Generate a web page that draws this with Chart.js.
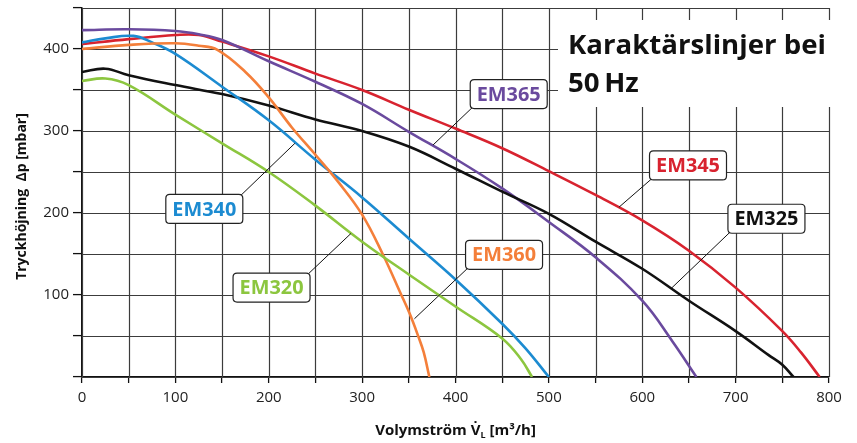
<!DOCTYPE html>
<html>
<head>
<meta charset="utf-8">
<script src="https://cdn.jsdelivr.net/npm/chart.js@4/dist/chart.umd.min.js"></script>
<style>
  html, body { margin: 0; padding: 0; background: #fff; }
  #wrap { width: 857px; height: 443px; }
</style>
</head>
<body>
<div id="wrap"><canvas id="chart"></canvas></div>
<script>
// Volymström [m³/h], Tryckhöjning [mbar]
const em320 = [[0,361],[25,364],[50,356],[100,320],[150,285],[200,250],[250,209],[300,165],[350,125],[400,86],[450,47],[470,22],[482,0]];
const em360 = [[0,400],[50,405],[100,407],[125,404],[145,399],[175,372],[200,341],[225,304],[250,271],[275,237],[300,198],[322,150],[342,100],[351,77],[360,50],[366,30],[372,0]];
const em340 = [[0,408],[25,413],[55,416],[75,408],[100,394],[150,354],[200,313],[250,265],[300,219],[350,169],[400,119],[450,65],[475,35],[500,0]];
const em325 = [[0,372],[25,376],[50,368],[100,356],[150,345],[200,331],[250,314],[300,300],[350,281],[400,254],[450,226],[500,199],[550,165],[600,132],[650,93],[700,56],[735,27],[750,15],[762,0]];
const em365 = [[0,423],[50,424],[100,422],[125,418],[150,411],[200,385],[250,360],[300,333],[350,299],[400,266],[450,230],[500,189],[550,146],[600,93],[632,44],[658,0]];
const em345 = [[0,406],[50,412],[100,417],[125,417],[150,409],[200,391],[250,370],[300,350],[350,326],[400,303],[450,279],[500,251],[550,222],[600,191],[650,154],[700,109],[750,56],[770,30],[790,0]];

const xGrid = [0,50,100,150,200,250,300,350,400,450,500,550,600,650,700,750,800];
const yGrid = [0,50,100,150,200,250,300,350,400,450];

const colors = { em320: "#8cc63f", em360: "#f47f3a", em340: "#1c8bd1", em325: "#111111", em365: "#6a4a9e", em345: "#d8232f" };

// label boxes: centre (bx,by) and the point on the curve the leader goes to (ax,ay), in data units
const curveLabels = [
  { text: "EM365", color: colors.em365, bx: 457, by: 345, ax: 376, ay: 283, corner: "bl" },
  { text: "EM345", color: colors.em345, bx: 649, by: 258, ax: 575, ay: 207, corner: "bl" },
  { text: "EM325", color: colors.em325, bx: 733, by: 193, ax: 631, ay: 108, corner: "bl" },
  { text: "EM340", color: colors.em340, bx: 131, by: 205, ax: 228, ay: 285, corner: "tr" },
  { text: "EM320", color: colors.em320, bx: 203, by: 109, ax: 288, ay: 175, corner: "tr" },
  { text: "EM360", color: colors.em360, bx: 452, by: 149, ax: 356, ay: 71, corner: "bl" },
];

const FONT = "'Open Sans', 'DejaVu Sans', sans-serif";
const PANEL = { x: 558, y: 20, w: 300, h: 87 };
const BOX = { w: 77, h: 29 };

function series(label, pts, color) {
  return {
    label,
    data: pts.map(p => ({ x: p[0], y: p[1] })),
    borderColor: color,
    borderWidth: 2.6,
    pointRadius: 0,
    fill: false,
    tension: 0.4,
  };
}

function fitFont(ctx, text, weight, targetWidth, start) {
  ctx.font = `${weight} ${start}px ${FONT}`;
  const w = ctx.measureText(text).width;
  return start * targetWidth / w;
}

function boxRect(chart, l) {
  const cx = chart.scales.x.getPixelForValue(l.bx), cy = chart.scales.y.getPixelForValue(l.by);
  return { cx, cy, x0: cx - BOX.w / 2, y0: cy - BOX.h / 2 };
}

function roundRect(ctx, x, y, w, h, r) {
  ctx.beginPath();
  ctx.moveTo(x + r, y);
  ctx.lineTo(x + w - r, y);
  ctx.quadraticCurveTo(x + w, y, x + w, y + r);
  ctx.lineTo(x + w, y + h - r);
  ctx.quadraticCurveTo(x + w, y + h, x + w - r, y + h);
  ctx.lineTo(x + r, y + h);
  ctx.quadraticCurveTo(x, y + h, x, y + h - r);
  ctx.lineTo(x, y + r);
  ctx.quadraticCurveTo(x, y, x + r, y);
  ctx.closePath();
}

function strokeGrid(chart) {
  const ctx = chart.ctx;
  const xs = chart.scales.x, ys = chart.scales.y;
  const top = ys.getPixelForValue(450), bottom = ys.getPixelForValue(0);
  const left = xs.getPixelForValue(0), right = xs.getPixelForValue(800);
  ctx.strokeStyle = "#3c3c3c";
  ctx.lineWidth = 1.2;
  ctx.beginPath();
  xGrid.forEach(v => {
    const px = Math.round(xs.getPixelForValue(v)) + 0.5;
    ctx.moveTo(px, top);
    ctx.lineTo(px, bottom);
  });
  yGrid.forEach(v => {
    const py = Math.round(ys.getPixelForValue(v)) + 0.5;
    ctx.moveTo(left, py);
    ctx.lineTo(right, py);
  });
  ctx.stroke();
}

const decorations = {
  id: "decorations",
  beforeDatasetsDraw(chart) {
    const ctx = chart.ctx;
    ctx.save();
    strokeGrid(chart);
    ctx.fillStyle = "#fff";
    ctx.fillRect(PANEL.x, PANEL.y, PANEL.w, PANEL.h);
    ctx.restore();
  },
  afterDatasetsDraw(chart) {
    const ctx = chart.ctx;
    const xs = chart.scales.x, ys = chart.scales.y;
    ctx.save();

    // heading
    const hSize = fitFont(ctx, "Karaktärslinjer bei", "bold", 258, 28);
    ctx.font = `bold ${hSize}px ${FONT}`;
    ctx.fillStyle = "#111";
    ctx.textAlign = "left";
    ctx.textBaseline = "alphabetic";
    ctx.fillText("Karaktärslinjer bei", 568, 54);
    ctx.fillText("50\u2009Hz", 568, 92);

    // curve labels
    const lSize = fitFont(ctx, "EM365", "bold", 64, 20);
    curveLabels.forEach(l => {
      const b = boxRect(chart, l);
      const sx = l.corner === "tr" ? b.x0 + BOX.w - 2 : b.x0 + 2;
      const sy = l.corner === "tr" ? b.y0 + 1 : b.y0 + BOX.h - 1;
      ctx.beginPath();
      ctx.moveTo(sx, sy);
      ctx.lineTo(xs.getPixelForValue(l.ax), ys.getPixelForValue(l.ay));
      ctx.strokeStyle = "#111";
      ctx.lineWidth = 1;
      ctx.stroke();
      roundRect(ctx, b.x0, b.y0, BOX.w, BOX.h, 4);
      ctx.fillStyle = "#fff";
      ctx.fill();
      ctx.strokeStyle = "#222";
      ctx.lineWidth = 1.2;
      ctx.stroke();
      ctx.font = `bold ${lSize}px ${FONT}`;
      ctx.fillStyle = l.color;
      ctx.textAlign = "center";
      ctx.textBaseline = "middle";
      ctx.fillText(l.text, b.cx, b.cy + 1);
    });

    // y axis title
    ctx.save();
    ctx.translate(22, (chart.chartArea.top + chart.chartArea.bottom) / 2 + 4);
    ctx.rotate(-Math.PI / 2);
    ctx.font = `bold 14px ${FONT}`;
    ctx.fillStyle = "#111";
    ctx.textAlign = "center";
    ctx.textBaseline = "middle";
    ctx.fillText("Tryckhöjning  Δp [mbar]", 0, 0);
    ctx.restore();

    // x axis title with subscript L
    const p1 = "Volymström V\u0307", p2 = "L", p3 = " [m³/h]";
    ctx.textBaseline = "alphabetic";
    ctx.textAlign = "left";
    ctx.font = `bold 15px ${FONT}`;
    const w1 = ctx.measureText(p1).width, w3 = ctx.measureText(p3).width;
    ctx.font = `bold 9px ${FONT}`;
    const w2 = ctx.measureText(p2).width;
    let x = (chart.chartArea.left + chart.chartArea.right) / 2 - (w1 + w2 + w3) / 2;
    const base = 435;
    ctx.fillStyle = "#111";
    ctx.font = `bold 15px ${FONT}`;
    ctx.fillText(p1, x, base);
    x += w1;
    ctx.font = `bold 9px ${FONT}`;
    ctx.fillText(p2, x, base + 3);
    x += w2;
    ctx.font = `bold 15px ${FONT}`;
    ctx.fillText(p3, x, base);
    ctx.restore();
  },
  afterDraw(chart) {
    // if the grid drawn under the curves did not survive, paint it again, keeping clear of panel and boxes
    const ctx = chart.ctx;
    const px = Math.round(chart.scales.x.getPixelForValue(150));
    const py = Math.round(chart.scales.y.getPixelForValue(175));
    const d = ctx.getImageData(px, py, 1, 1).data;
    if (d[3] > 0 && d[0] < 150) return;
    ctx.save();
    ctx.beginPath();
    ctx.rect(0, 0, chart.width, chart.height);
    ctx.rect(PANEL.x + PANEL.w, PANEL.y, -PANEL.w, PANEL.h);
    curveLabels.forEach(l => {
      const b = boxRect(chart, l);
      ctx.rect(b.x0 + BOX.w, b.y0, -BOX.w, BOX.h);
    });
    ctx.clip();
    strokeGrid(chart);
    ctx.restore();
  },
};

const gridStyle = { drawOnChartArea: false, color: "#111", lineWidth: 1.2, tickColor: "#111", tickWidth: 1.3 };

new Chart(document.getElementById("chart"), {
  type: "line",
  data: {
    datasets: [
      series("EM320", em320, colors.em320),
      series("EM360", em360, colors.em360),
      series("EM340", em340, colors.em340),
      series("EM325", em325, colors.em325),
      series("EM365", em365, colors.em365),
      series("EM345", em345, colors.em345),
    ],
  },
  options: {
    responsive: true,
    maintainAspectRatio: false,
    animation: false,
    layout: { padding: { top: 8, right: 28, left: 0, bottom: 0 } },
    plugins: { legend: { display: false }, tooltip: { enabled: false } },
    scales: {
      x: {
        type: "linear",
        min: 0, max: 800,
        ticks: {
          stepSize: 50, autoSkip: false, maxRotation: 0,
          color: "#222", font: { family: FONT, size: 15 }, padding: 6,
          callback: v => (v % 100 === 0 ? v : ""),
        },
        grid: { ...gridStyle, tickLength: 6 },
        border: { display: true, color: "#111", width: 1.5 },
        afterFit: s => { s.height = 66; s.paddingLeft = 0; s.paddingRight = 0; },
      },
      y: {
        min: 0, max: 450,
        ticks: {
          stepSize: 50, autoSkip: false,
          color: "#222", font: { family: FONT, size: 15 }, padding: 4,
          callback: v => (v % 100 === 0 && v > 0 ? v : ""),
        },
        grid: { ...gridStyle, tickLength: 9 },
        border: { display: true, color: "#111", width: 1.5 },
        afterFit: s => { s.width = 82; s.paddingTop = 0; s.paddingBottom = 0; },
      },
    },
  },
  plugins: [decorations],
});
</script>
</body>
</html>
